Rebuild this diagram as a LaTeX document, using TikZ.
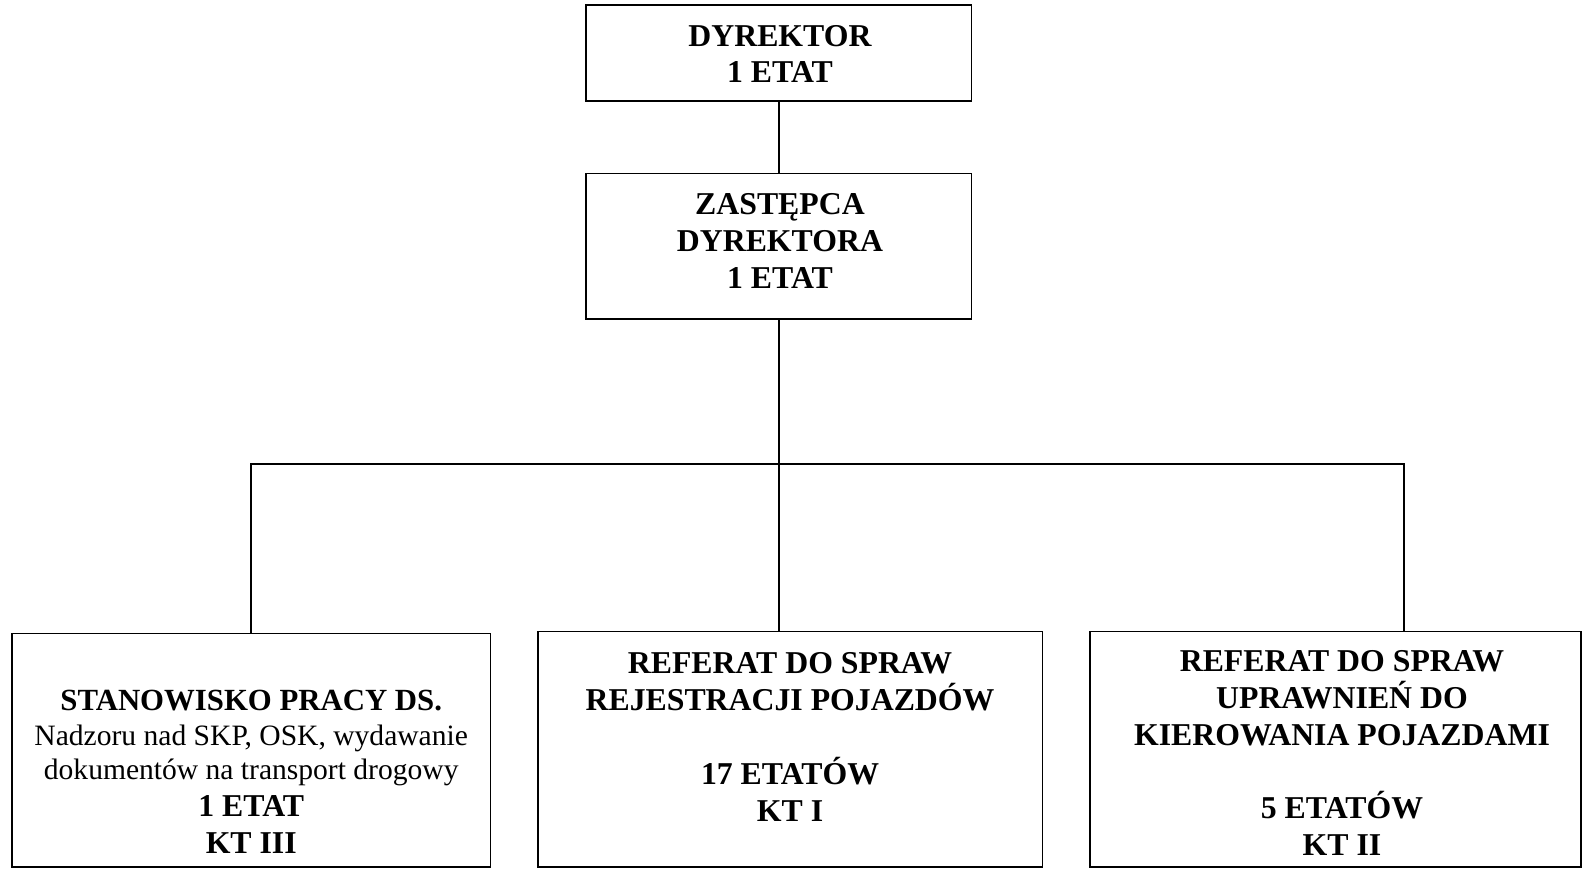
\documentclass[tikz,border=0pt]{standalone}
\usepackage{fontspec}
\setmainfont{Liberation Serif}
\begin{document}
\begin{tikzpicture}[x=1pt,y=-1pt,scale=1.009,every node/.append style={transform shape},
  orgbox/.style={draw, line width=1.6pt, rectangle, inner sep=0pt},
  btxt/.style={inner sep=0pt, align=center, font=\fontsize{31.5}{36.5}\selectfont\bfseries},
  conn/.style={line width=1.6pt}]
\useasboundingbox (0,0) rectangle (1567.9,861.25);
% boxes
\node[orgbox, minimum width=382pt, minimum height=95pt] (dyr) at (772,52.5) {};
\node[orgbox, minimum width=382pt, minimum height=144pt] (zast) at (772,244) {};
\node[orgbox, minimum width=474pt, minimum height=231.5pt] (L) at (249,743.75) {};
\node[orgbox, minimum width=500pt, minimum height=233.5pt] (M) at (783,742.75) {};
\node[orgbox, minimum width=487pt, minimum height=233.5pt] (R) at (1323.5,742.75) {};
% texts
\node[btxt] (tdyr) at (773,53.5) {DYREKTOR\\1 ETAT};
\node[btxt] (tzast) at (773,239) {ZASTĘPCA\\DYREKTORA\\1 ETAT};
\node[btxt] (tL) at (249,765) {{\fontsize{30.5}{36.5}\selectfont STANOWISKO PRACY DS.}\\[-2pt]
  {\mdseries\fontsize{29.3}{34}\selectfont Nadzoru nad SKP, OSK, wydawanie}\\[-2.5pt]
  {\mdseries\fontsize{29.3}{34}\selectfont dokumentów na transport drogowy}\\
  1 ETAT\\KT III};
\node[btxt] (tM) at (783,730.5) {REFERAT DO SPRAW\\REJESTRACJI POJAZDÓW\\[36.5pt]17 ETATÓW\\KT I};
\node[btxt] (tR) at (1330,746.5) {REFERAT DO SPRAW\\UPRAWNIEŃ DO\\KIEROWANIA POJAZDAMI\\[36.5pt]5 ETATÓW\\KT II};
% connectors
\coordinate (J) at (772,460);
\coordinate (rt) at (1391,626);
\draw[conn] (dyr.south) -- (zast.north);
\draw[conn] (zast.south) -- (zast.south |- M.north);
\draw[conn] (L.north) |- (J) -| (rt);
\end{tikzpicture}
\end{document}
